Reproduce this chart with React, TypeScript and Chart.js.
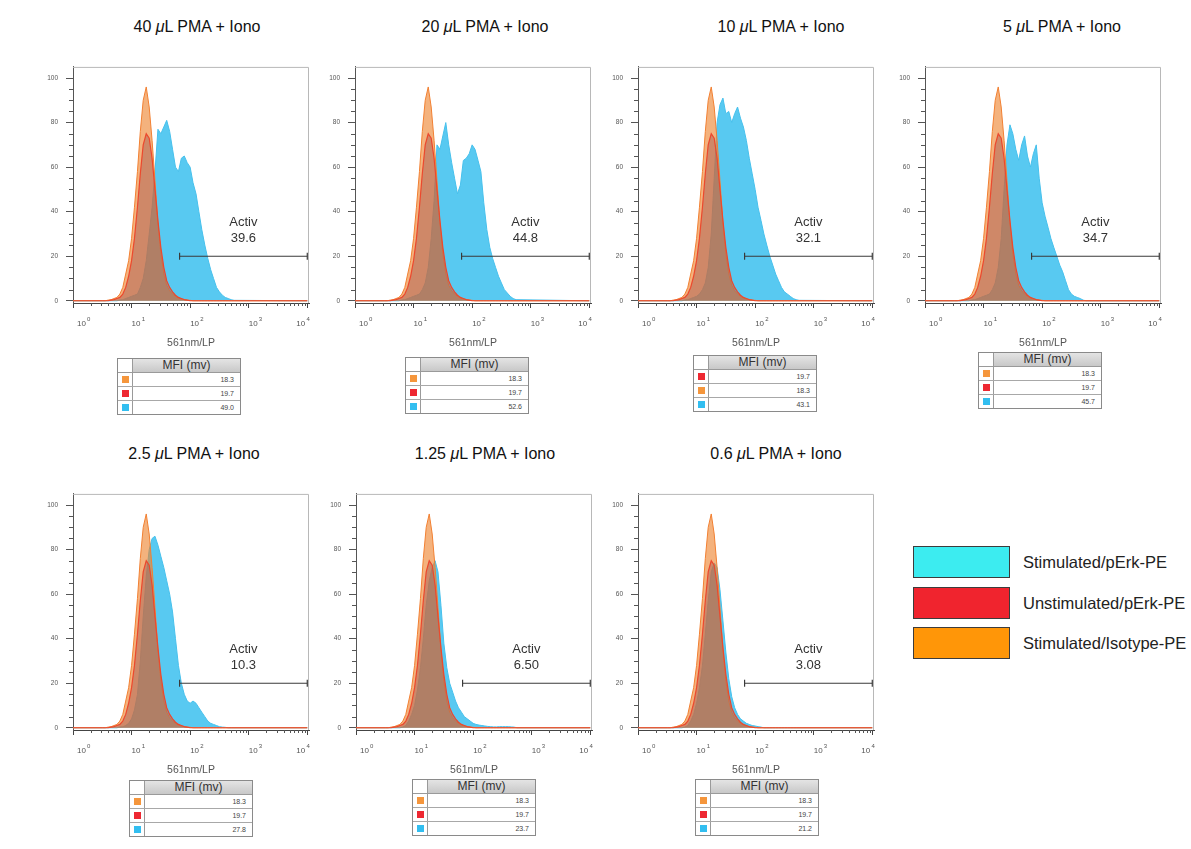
import React, { useEffect, useRef } from "react";
import { Chart, registerables } from "chart.js";

Chart.register(...registerables);

const FONT = '"Liberation Sans", Arial, Helvetica, sans-serif';

// ---------- DATA ----------
// histogram bin centres (561nm/LP fluorescence, log-spaced)
const binsX = [
  1, 3.16, 3.55, 3.98, 4.47, 5.01, 5.62, 6.31, 7.08, 7.94,
  8.91, 10, 11.2, 12.6, 14.1, 15.8, 17.8, 20.0, 22.4, 25.1,
  28.2, 31.6, 35.5, 39.8, 44.7, 50.1, 56.2, 63.1, 70.8, 79.4,
  89.1, 100, 112, 126, 141, 158, 178, 200, 224, 251,
  282, 316, 355, 398, 447, 501, 562, 10000,
];

// control samples (identical in every panel)
const isotypeCounts = [
  0, 0, 0, 0.3, 0.5, 1, 1.5, 3, 6, 12,
  18, 28, 42, 58, 76, 90, 96, 87, 72, 54,
  35, 21, 12, 7, 4.5, 3, 2, 1.2, 0.8, 0.5,
  0.3, 0.2, 0, 0, 0, 0, 0, 0, 0, 0,
  0, 0, 0, 0, 0, 0, 0, 0,
];
const unstimCounts = [
  0, 0, 0, 0, 0.3, 0.5, 1, 1.5, 3, 6,
  11, 18, 28, 42, 57, 70, 75, 73, 64, 50,
  36, 24, 15, 9, 6, 4, 2.5, 1.5, 1, 0.5,
  0.3, 0, 0, 0, 0, 0, 0, 0, 0, 0,
  0, 0, 0, 0, 0, 0, 0, 0,
];

// stimulated pErk-PE, one per PMA dose
const stim40uL = [
  0, 0, 0, 0, 0, 0, 0, 0.3, 0.5, 1,
  1.5, 2, 2.5, 3, 6, 10, 18, 30, 42, 58,
  77, 75, 78, 81, 76, 68, 60, 58, 64, 65,
  62, 60, 53, 48, 40, 32, 25, 19, 14, 10,
  6, 4, 2.5, 1.5, 1, 0.5, 0.2, 0,
];
const stim20uL = [
  0, 0, 0, 0, 0, 0, 0, 0.3, 0.5, 1,
  1.5, 2, 2.5, 3, 5, 8, 15, 28, 45, 70,
  68, 74, 80, 70, 62, 55, 48, 52, 63, 64,
  66, 70, 68, 63, 58, 44, 32, 24, 19, 15,
  11, 8, 5, 3.5, 2, 1, 0.5, 0,
];
const stim10uL = [
  0, 0, 0, 0, 0, 0, 0, 0.3, 0.5, 1,
  1.5, 2, 3, 5, 8, 15, 30, 55, 80, 88,
  91, 84, 85, 80, 84, 87, 82, 78, 72, 64,
  57, 50, 42, 36, 30, 25, 20, 16, 12, 9,
  6, 4, 3, 2, 1, 0.5, 0.2, 0,
];
const stim5uL = [
  0, 0, 0, 0, 0, 0, 0, 0.3, 0.5, 1,
  1.5, 2, 2.5, 3, 5, 8, 15, 28, 50, 70,
  79, 75, 68, 63, 70, 74, 65, 60, 66, 70,
  55, 44, 38, 33, 28, 24, 20, 16, 13, 9,
  5, 3, 2, 1.5, 1, 0.3, 0, 0,
];
const stim2p5uL = [
  0, 0, 0, 0, 0, 0, 0, 0.3, 0.5, 1,
  2, 4, 8, 15, 30, 50, 68, 80, 85, 86,
  82, 77, 72, 66, 60, 52, 40, 28, 20, 15,
  12, 11, 12, 11, 9, 7, 5, 3, 2, 1.5,
  1, 0.5, 0.3, 0.2, 0, 0, 0, 0,
];
const stim1p25uL = [
  0, 0, 0, 0, 0, 0, 0, 0.3, 1, 3,
  6, 10, 17, 27, 40, 55, 66, 72, 75, 70,
  55, 38, 27, 20, 16, 12, 9, 7, 5, 4,
  3, 2, 1.5, 1.2, 1, 0.8, 0.6, 0.5, 0.4, 0.4,
  0.5, 0.5, 0.5, 0.5, 0.4, 0.3, 0, 0,
];
const stim0p6uL = [
  0, 0, 0, 0, 0, 0, 0, 0.3, 1, 3,
  6, 11, 18, 28, 42, 57, 70, 74, 72, 62,
  48, 34, 22, 14, 9, 6, 4, 3, 2, 1.5,
  1, 0.8, 0.5, 0.3, 0, 0, 0, 0, 0, 0,
  0, 0, 0, 0, 0, 0, 0, 0,
];
const stimSeries = [stim40uL, stim20uL, stim10uL, stim5uL, stim2p5uL, stim1p25uL, stim0p6uL];

const doses = ["40", "20", "10", "5", "2.5", "1.25", "0.6"];
const activPercent = ["39.6", "44.8", "32.1", "34.7", "10.3", "6.50", "3.08"];
const isotypeMFI = 18.3;
const unstimMFI = 19.7;
const stimMFI = [49.0, 52.6, 43.1, 45.7, 27.8, 23.7, 21.2];
const tableOrder = [
  ["iso", "unstim", "stim"],
  ["iso", "unstim", "stim"],
  ["unstim", "iso", "stim"],
  ["iso", "unstim", "stim"],
  ["iso", "unstim", "stim"],
  ["iso", "unstim", "stim"],
  ["iso", "unstim", "stim"],
];

const gateStart = 66;
const gateEnd = 10000;
const gateLevel = 20;

const xTickValues = [1, 10, 100, 1000, 10000];
const xTickExponents = ["0", "1", "2", "3", "4"];
const yTickValues = [0, 20, 40, 60, 80, 100];
const xAxisTitle = "561nm/LP";
const legendLabels = ["Stimulated/pErk-PE", "Unstimulated/pErk-PE", "Stimulated/Isotype-PE"];

// ---------- LAYOUT / STYLE ----------
const PLOT_W = 236;
const PLOT_H = 238;
const PAD_L = 60;
const PAD_T = 10;
const PAD_R = 12;
const PAD_B = 50;
const panelLayout = [
  { plotLeft: 73, plotTop: 65, titleX: 197, tableX: 117, tableY: 358 },
  { plotLeft: 355, plotTop: 65, titleX: 485, tableX: 405, tableY: 357 },
  { plotLeft: 638, plotTop: 65, titleX: 781, tableX: 693, tableY: 355 },
  { plotLeft: 925, plotTop: 65, titleX: 1062, tableX: 978, tableY: 352 },
  { plotLeft: 73, plotTop: 492, titleX: 194, tableX: 129, tableY: 780 },
  { plotLeft: 356, plotTop: 492, titleX: 485, tableX: 412, tableY: 779 },
  { plotLeft: 638, plotTop: 492, titleX: 776, tableX: 695, tableY: 779 },
];
const xLabelOffsets = [4, 0, 0, 0, -11];

const swatch = { iso: "rgb(245,150,60)", unstim: "rgb(238,40,50)", stim: "rgb(50,190,240)" };
const legendColors = ["rgb(60,236,240)", "rgb(240,36,46)", "rgb(255,150,8)"];

const decorPlugin = {
  id: "decor",
  afterDatasetsDraw(chart: any, _args: any, opts: any) {
    const { ctx, scales } = chart;
    const x = scales.x;
    const y = scales.y;
    const gx = (x.getPixelForValue(opts.gateStart) + x.getPixelForValue(opts.gateEnd)) / 2;
    const gy = y.getPixelForValue(opts.gateY);
    ctx.save();
    ctx.fillStyle = "#333";
    ctx.font = `13px ${FONT}`;
    ctx.textAlign = "center";
    ctx.textBaseline = "middle";
    ctx.fillText("Activ", gx, gy - 34);
    ctx.fillText(opts.label, gx, gy - 18);
    ctx.restore();
  },
  afterDraw(chart: any) {
    const { ctx, chartArea: a, scales } = chart;
    const x = scales.x;
    const y = scales.y;
    ctx.save();
    // frame top / right
    ctx.strokeStyle = "#b8b8b8";
    ctx.lineWidth = 1;
    ctx.beginPath();
    ctx.moveTo(a.left, a.top + 0.5);
    ctx.lineTo(a.right - 0.5, a.top + 0.5);
    ctx.lineTo(a.right - 0.5, a.bottom);
    ctx.stroke();
    // minor x ticks
    ctx.strokeStyle = "#555";
    ctx.beginPath();
    for (let d = 0; d < 4; d++) {
      for (let m = 2; m <= 9; m++) {
        const px = Math.round(x.getPixelForValue(m * Math.pow(10, d))) + 0.5;
        ctx.moveTo(px, a.bottom);
        ctx.lineTo(px, a.bottom + 3);
      }
    }
    // minor y ticks
    for (let v = 5; v < 105; v += 5) {
      if (v % 20 === 0) continue;
      const py = Math.round(y.getPixelForValue(v)) + 0.5;
      ctx.moveTo(a.left - 4, py);
      ctx.lineTo(a.left, py);
    }
    ctx.stroke();
    // x tick labels 10^n
    ctx.fillStyle = "#555";
    ctx.textBaseline = "alphabetic";
    ctx.textAlign = "left";
    xTickValues.forEach((v, i) => {
      const px = x.getPixelForValue(v) + xLabelOffsets[i];
      ctx.font = `8px ${FONT}`;
      ctx.fillText("10", px, a.bottom + 22.5);
      const w = ctx.measureText("10").width;
      ctx.font = `6px ${FONT}`;
      ctx.fillText(xTickExponents[i], px + w + 1.2, a.bottom + 18);
    });
    ctx.restore();
  },
};

function HistPanel({ idx }: { idx: number }) {
  const ref = useRef<HTMLCanvasElement | null>(null);
  const lay = panelLayout[idx];
  useEffect(() => {
    if (!ref.current) return;
    const toPts = (arr: number[]) => binsX.map((xv, i) => ({ x: xv, y: arr[i] }));
    const chart = new Chart(ref.current, {
      type: "line",
      data: {
        datasets: [
          {
            label: "gate",
            data: [
              { x: gateStart, y: gateLevel },
              { x: gateEnd, y: gateLevel },
            ],
            borderColor: "#3a3a3a",
            borderWidth: 1.2,
            pointStyle: "line",
            rotation: 90,
            pointRadius: 3.5,
            pointBorderColor: "#3a3a3a",
            pointBorderWidth: 1.2,
            fill: false,
            order: 0,
          } as any,
          {
            label: legendLabels[1],
            data: toPts(unstimCounts),
            borderColor: "rgb(236,72,45)",
            backgroundColor: "rgba(172,96,84,0.5)",
            borderWidth: 1.2,
            pointRadius: 0,
            fill: "origin",
            tension: 0,
            order: 1,
          },
          {
            label: legendLabels[2],
            data: toPts(isotypeCounts),
            borderColor: "rgb(242,128,50)",
            backgroundColor: "rgba(238,130,45,0.62)",
            borderWidth: 1,
            pointRadius: 0,
            fill: "origin",
            tension: 0,
            order: 2,
          },
          {
            label: legendLabels[0],
            data: toPts(stimSeries[idx]),
            borderColor: "rgb(70,192,236)",
            backgroundColor: "rgba(74,196,240,0.92)",
            borderWidth: 1,
            pointRadius: 0,
            fill: "origin",
            tension: 0,
            order: 3,
          },
        ],
      },
      options: {
        animation: false,
        responsive: false,
        events: [],
        layout: { padding: { left: 0, top: PAD_T, right: PAD_R, bottom: 0 }, autoPadding: false } as any,
        plugins: {
          legend: { display: false },
          tooltip: { enabled: false },
          decor: { gateStart, gateEnd, gateY: gateLevel, label: activPercent[idx] },
        } as any,
        scales: {
          x: {
            type: "logarithmic",
            min: 1,
            max: 10700,
            afterBuildTicks: (s: any) => {
              s.ticks = xTickValues.map((v) => ({ value: v }));
            },
            afterFit: (s: any) => {
              s.height = PAD_B;
            },
            ticks: { display: false },
            grid: { display: true, drawOnChartArea: false, drawTicks: true, tickLength: 5, color: "#444", lineWidth: 1 },
            border: { display: true, color: "#444", width: 1 },
          },
          y: {
            type: "linear",
            min: -1,
            max: 105,
            afterBuildTicks: (s: any) => {
              s.ticks = yTickValues.map((v) => ({ value: v }));
            },
            afterFit: (s: any) => {
              s.width = PAD_L;
            },
            ticks: { font: { size: 6.5, family: FONT }, color: "#555", padding: 8 },
            grid: { display: true, drawOnChartArea: false, drawTicks: true, tickLength: 7, color: "#555", lineWidth: 1 },
            border: { display: true, color: "#555", width: 1 },
          },
        },
      },
      plugins: [decorPlugin as any],
    });
    return () => chart.destroy();
  }, [idx]);

  const valueOf = (k: string) => (k === "iso" ? isotypeMFI : k === "unstim" ? unstimMFI : stimMFI[idx]);

  return (
    <>
      <div
        style={{
          position: "absolute",
          left: lay.titleX - 110,
          width: 220,
          top: lay.plotTop - 47,
          textAlign: "center",
          fontSize: 16,
          lineHeight: "18px",
          color: "#111",
          whiteSpace: "nowrap",
        }}
      >
        {doses[idx]} <i>μ</i>L PMA + Iono
      </div>
      <canvas
        ref={ref}
        width={PLOT_W + PAD_L + PAD_R}
        height={PLOT_H + PAD_T + PAD_B}
        style={{
          position: "absolute",
          left: lay.plotLeft - PAD_L,
          top: lay.plotTop - PAD_T,
          width: PLOT_W + PAD_L + PAD_R,
          height: PLOT_H + PAD_T + PAD_B,
        }}
      />
      <div
        style={{
          position: "absolute",
          left: lay.plotLeft + PLOT_W / 2 - 60,
          width: 120,
          top: lay.plotTop + PLOT_H + 33,
          textAlign: "center",
          fontSize: 10.5,
          lineHeight: "12px",
          color: "#555",
        }}
      >
        {xAxisTitle}
      </div>
      <div
        style={{
          position: "absolute",
          left: lay.tableX,
          top: lay.tableY,
          width: 124,
          border: "1px solid #8a8a8a",
          background: "#fff",
          boxSizing: "border-box",
        }}
      >
        <div style={{ display: "flex", height: 13, borderBottom: "1px solid #9a9a9a" }}>
          <div style={{ width: 14, borderRight: "1px solid #9a9a9a", background: "#fff" }} />
          <div
            style={{
              flex: 1,
              background: "linear-gradient(#e4e4e4,#c8c8c8)",
              textAlign: "center",
              fontSize: 12,
              lineHeight: "13px",
              color: "#333",
            }}
          >
            MFI (mv)
          </div>
        </div>
        {tableOrder[idx].map((k, i) => (
          <div key={k} style={{ display: "flex", height: 13, borderTop: i ? "1px solid #a8a8a8" : "none" }}>
            <div
              style={{
                width: 14,
                borderRight: "1px solid #9a9a9a",
                display: "flex",
                alignItems: "center",
                justifyContent: "center",
              }}
            >
              <div style={{ width: 7, height: 7, background: (swatch as any)[k] }} />
            </div>
            <div style={{ flex: 1, textAlign: "right", paddingRight: 6, fontSize: 7, lineHeight: "13px", color: "#444" }}>
              {valueOf(k).toFixed(1)}
            </div>
          </div>
        ))}
      </div>
    </>
  );
}

export default function App() {
  return (
    <div
      style={{
        position: "absolute",
        left: 0,
        top: 0,
        width: 1191,
        height: 849,
        background: "#fff",
        overflow: "hidden",
        fontFamily: FONT,
      }}
    >
      {doses.map((_, i) => (
        <HistPanel key={i} idx={i} />
      ))}
      {legendLabels.map((lab, i) => (
        <React.Fragment key={lab}>
          <div
            style={{
              position: "absolute",
              left: 913,
              top: 546 + i * 40.5,
              width: 97,
              height: 32,
              boxSizing: "border-box",
              border: "1px solid #3c3c3c",
              background: legendColors[i],
            }}
          />
          <div
            style={{
              position: "absolute",
              left: 1023,
              top: 546 + i * 40.5 + 6,
              fontSize: 16.5,
              lineHeight: "20px",
              color: "#222",
              whiteSpace: "nowrap",
            }}
          >
            {lab}
          </div>
        </React.Fragment>
      ))}
    </div>
  );
}
